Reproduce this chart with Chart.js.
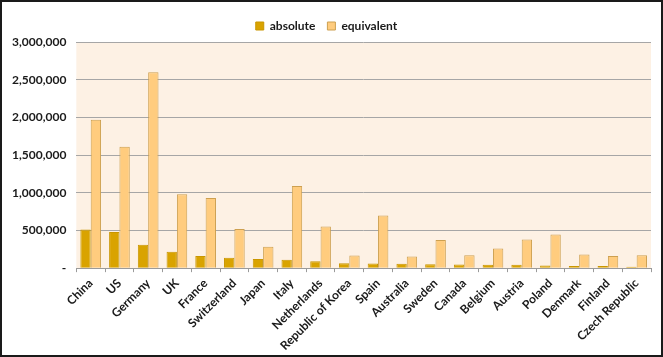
<!DOCTYPE html>
<html><head><meta charset="utf-8">
<script src="https://cdn.jsdelivr.net/npm/chart.js@4/dist/chart.umd.min.js"></script>
<style>html,body{margin:0;padding:0;background:#fff;}#wrap{width:663px;height:357px;position:relative;}</style>
</head><body><div id="wrap"><canvas id="c" width="663" height="357"></canvas></div>
<script>
const categories = ["China","US","Germany","UK","France","Switzerland","Japan","Italy","Netherlands","Republic of Korea","Spain","Australia","Sweden","Canada","Belgium","Austria","Poland","Denmark","Finland","Czech Republic"];
const absoluteValues = [512000,478000,310000,217000,160000,137000,120000,110000,93000,66000,62000,60000,53000,50000,44000,44000,35000,27000,27000,18000];
const equivalentValues = [1970000,1610000,2600000,980000,930000,518000,283000,1089000,553000,168000,700000,155000,372000,172000,260000,380000,447000,180000,160000,170000];
const yTicks = [0,500000,1000000,1500000,2000000,2500000,3000000];

const bgPlugin = {
  id:'bg',
  beforeDraw(chart){
    const {ctx, chartArea:a} = chart;
    ctx.save();
    ctx.fillStyle='#fff';
    ctx.fillRect(0,0,chart.width,chart.height);
    ctx.fillStyle='#FDF1E4';
    ctx.fillRect(a.left,a.top,a.right-a.left,a.bottom-a.top);
    ctx.restore();
  },
  afterDraw(chart){
    const ctx=chart.ctx;
    ctx.save();
    ctx.strokeStyle='#1a1a1a';
    ctx.lineWidth=2;
    ctx.strokeRect(1,1,chart.width-2,chart.height-2);
    ctx.restore();
  }
};
const font = {family:'Lato, "Open Sans", sans-serif', size:12, weight:'bold'};
new Chart(document.getElementById('c'),{
  type:'bar',
  data:{labels:categories,datasets:[
    {label:'absolute',data:absoluteValues,backgroundColor:'#D9A300',borderColor:'#C99600',borderWidth:1,categoryPercentage:0.72,barPercentage:1.0},
    {label:'equivalent',data:equivalentValues,backgroundColor:'#FFCC7E',borderColor:'#CDA050',borderWidth:1,categoryPercentage:0.72,barPercentage:1.0}
  ]},
  options:{
    responsive:false,animation:false,
    layout:{padding:{left:2,right:12,top:8,bottom:0}},
    plugins:{
      legend:{position:'top',labels:{boxWidth:8,boxHeight:8,font:font,color:'#1a1a1a',padding:12,generateLabels(chart){
        return chart.data.datasets.map((d,i)=>({text:d.label,fillStyle:d.backgroundColor,strokeStyle:d.borderColor,lineWidth:1,datasetIndex:i,fontColor:'#1a1a1a'}));
      }}},
      tooltip:{enabled:false}
    },
    scales:{
      x:{offset:true,grid:{offset:true,drawOnChartArea:false,color:'#9a9a9a',tickLength:4,drawTicks:true},border:{color:'#9a9a9a'},
        ticks:{font:font,color:'#1a1a1a',minRotation:45,maxRotation:45,padding:4,autoSkip:false}},
      y:{min:0,max:3000000,afterBuildTicks(s){s.ticks=yTicks.map(v=>({value:v}));},
        grid:{color:'#A6A6A6',drawTicks:false},border:{display:false},
        ticks:{font:font,color:'#1a1a1a',padding:10,callback:v=>v===0?'-':v.toLocaleString('en-US')}}
    }
  },
  plugins:[bgPlugin]
});
</script></body></html>
